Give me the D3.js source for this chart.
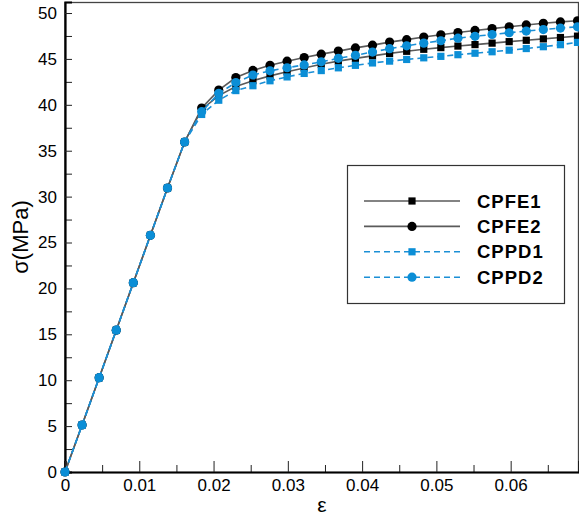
<!DOCTYPE html>
<html>
<head>
<meta charset="utf-8">
<script src="https://cdn.jsdelivr.net/npm/d3@7"></script>
<style>
  body { margin: 0; background: #fff; }
  svg { display: block; font-family: "Liberation Sans", Arial, sans-serif; }
  .tick text { font-size: 17px; fill: #000; }
</style>
</head>
<body>
<svg width="579" height="518"></svg>
<script>
// strain points, same for every series (step 0.0023)
const strain = d3.range(31).map(i => +(i * 0.0023).toFixed(4));

const elastic = [0, 5.12, 10.27, 15.45, 20.62, 25.78, 30.94, 35.95];

const cpfe1 = elastic.concat([39.5, 41.0, 42.0, 42.63, 43.15, 43.6, 44.02, 44.42, 44.76, 45.06,
  45.33, 45.6, 45.83, 46.05, 46.23, 46.4, 46.56, 46.72, 46.88, 47.03, 47.18, 47.33, 47.48]);
const cpfe2 = elastic.concat([39.65, 41.6, 42.97, 43.75, 44.3, 44.75, 45.15, 45.52, 45.85, 46.2,
  46.5, 46.83, 47.1, 47.38, 47.63, 47.87, 48.1, 48.3, 48.5, 48.7, 48.88, 49.03, 49.15]);
const cppd1 = elastic.concat([38.95, 40.5, 41.55, 42.08, 42.62, 43.04, 43.42, 43.73, 44.03, 44.3,
  44.56, 44.76, 44.94, 45.12, 45.28, 45.46, 45.62, 45.78, 45.95, 46.13, 46.33, 46.55, 46.8]);
const cppd2 = elastic.concat([39.25, 41.25, 42.42, 43.25, 43.7, 44.04, 44.35, 44.68, 45.06, 45.39,
  45.75, 46.12, 46.43, 46.72, 46.98, 47.26, 47.46, 47.66, 47.85, 48.03, 48.2, 48.36, 48.5]);

const seriesNames = ['CPFE1', 'CPFE2', 'CPPD1', 'CPPD2'];
const seriesValues = [cpfe1, cpfe2, cppd1, cppd2];

const yTicks = d3.range(0, 51, 5);
const xTicks = [0, 0.01, 0.02, 0.03, 0.04, 0.05, 0.06];

const svg = d3.select('svg');
const width = +svg.attr('width');
const height = +svg.attr('height');
const margin = { top: 2, right: 0, bottom: 46, left: 65 };
const innerWidth = width - margin.left - margin.right;
const innerHeight = height - margin.top - margin.bottom;

const xScale = d3.scaleLinear().domain([0, 0.0692]).range([0, innerWidth]);
const yScale = d3.scaleLinear().domain([0, 51.2]).range([innerHeight, 0]);

const g = svg.append('g').attr('transform', `translate(${margin.left},${margin.top})`);

// frame (top / right)
g.append('rect')
  .attr('x', 0).attr('y', 0.5)
  .attr('width', innerWidth - 0.5).attr('height', innerHeight)
  .attr('fill', 'none').attr('stroke', '#444').attr('stroke-width', 1.3);

// minor ticks (inward), no labels
const yMinor = d3.range(2.5, 51, 5);
g.append('g').call(d3.axisLeft(yScale).tickValues(yMinor).tickSize(-7).tickFormat(''))
  .call(a => a.select('.domain').remove())
  .call(a => a.selectAll('text').remove())
  .selectAll('line').attr('stroke', '#222');
const xMinor = d3.range(0.005, 0.069, 0.01);
g.append('g').attr('transform', `translate(0,${innerHeight})`)
  .call(d3.axisBottom(xScale).tickValues(xMinor).tickSize(-7).tickFormat(''))
  .call(a => a.select('.domain').remove())
  .call(a => a.selectAll('text').remove())
  .selectAll('line').attr('stroke', '#222');

// major ticks and labels
const yAxisG = g.append('g')
  .call(d3.axisLeft(yScale).tickValues(yTicks).tickSize(-7).tickPadding(8).tickFormat(d3.format('d')));
yAxisG.select('.domain').attr('stroke', '#000').attr('stroke-width', 2.2);
yAxisG.selectAll('.tick line').attr('stroke', '#222');

const xAxisG = g.append('g').attr('transform', `translate(0,${innerHeight})`)
  .call(d3.axisBottom(xScale).tickValues(xTicks).tickSize(-11).tickPadding(4)
    .tickFormat(d => d === 0 ? '0' : d3.format('.2f')(d)));
xAxisG.select('.domain').attr('stroke', '#000').attr('stroke-width', 2.2);
xAxisG.selectAll('.tick line').attr('stroke', '#222');
xAxisG.selectAll('.tick text').attr('y', 7);

// axis titles
svg.append('text')
  .attr('transform', 'translate(28,237) rotate(-90)')
  .attr('text-anchor', 'middle')
  .style('font-size', '22px')
  .text('σ(MPa)');
svg.append('text')
  .attr('x', 322).attr('y', 512)
  .attr('text-anchor', 'middle')
  .style('font-size', '21px')
  .text('ε');

// series styles
const styles = [
  { line: '#5a5a5a', dash: null, mark: '#000', shape: 'square' },
  { line: '#5a5a5a', dash: null, mark: '#000', shape: 'circle' },
  { line: '#1b8fd6', dash: '6,4', mark: '#0b8ed6', shape: 'square' },
  { line: '#1b8fd6', dash: '6,4', mark: '#0b8ed6', shape: 'circle' }
];

const line = d3.line().x((d, i) => xScale(strain[i])).y(d => yScale(d));

const drawMarker = (sel, st, x, y) => {
  if (st.shape === 'square') {
    sel.append('rect').attr('x', x - 3.6).attr('y', y - 3.6)
      .attr('width', 7.2).attr('height', 7.2).attr('fill', st.mark);
  } else {
    sel.append('circle').attr('cx', x).attr('cy', y).attr('r', 4.6).attr('fill', st.mark);
  }
};

seriesValues.forEach((vals, k) => {
  const st = styles[k];
  const sg = g.append('g');
  sg.append('path').datum(vals)
    .attr('d', line)
    .attr('fill', 'none')
    .attr('stroke', st.line)
    .attr('stroke-width', 1.6)
    .attr('stroke-dasharray', st.dash);
  vals.forEach((v, i) => drawMarker(sg, st, xScale(strain[i]), yScale(v)));
});

// legend
const lg = svg.append('g');
lg.append('rect')
  .attr('x', 347.5).attr('y', 165.5).attr('width', 217).attr('height', 138)
  .attr('fill', '#fff').attr('stroke', '#333').attr('stroke-width', 1.2);
seriesNames.forEach((name, k) => {
  const st = styles[k];
  const y = 201 + k * 25.4;
  lg.append('line')
    .attr('x1', 364).attr('x2', 460).attr('y1', y).attr('y2', y)
    .attr('stroke', st.line).attr('stroke-width', 1.6)
    .attr('stroke-dasharray', st.dash);
  drawMarker(lg, st, 412, y);
  lg.append('text')
    .attr('x', 477).attr('y', y).attr('dy', '0.36em')
    .style('font-size', '18.5px').style('font-weight', 'bold')
    .style('letter-spacing', '1px')
    .text(name);
});
</script>
</body>
</html>
